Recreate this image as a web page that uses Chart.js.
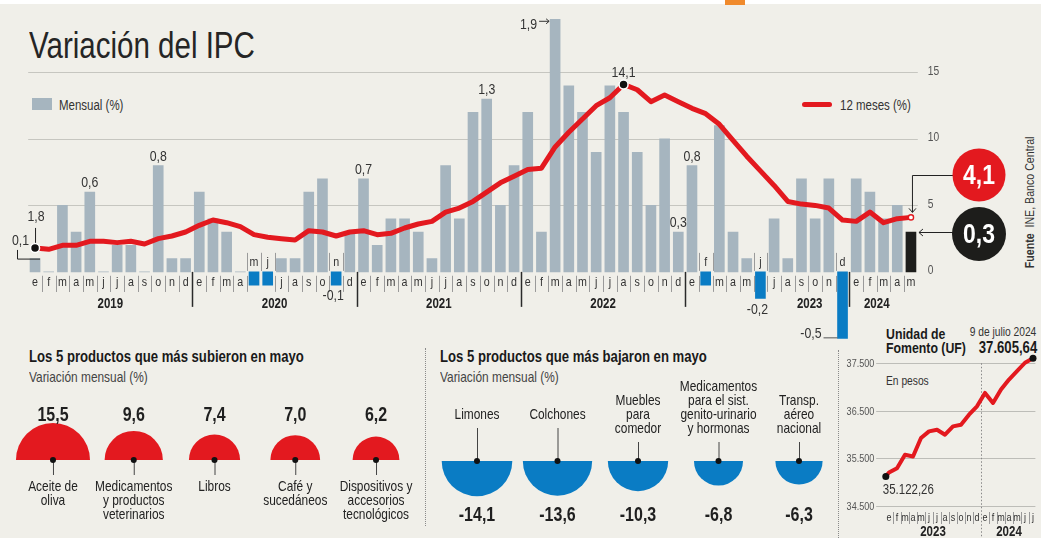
<!DOCTYPE html>
<html><head><meta charset="utf-8">
<script src="https://cdn.jsdelivr.net/npm/chart.js@4.4.1/dist/chart.umd.min.js"></script>
<style>
body{margin:0;background:#f0efe9;}
#page{position:relative;width:1041px;height:538px;background:#f0efe9;overflow:hidden;font-family:'Liberation Sans',Arial,sans-serif;color:#222;}
.abs{position:absolute;white-space:nowrap;}
.n{transform:scaleX(.82);transform-origin:0 0;}
.nr{transform:scaleX(.82);transform-origin:100% 0;}
canvas{position:absolute;}
</style></head><body>
<div id="page">
<div class="abs" style="left:0;top:0;width:1041px;height:4px;background:#fff"></div>
<div class="abs" style="left:725px;top:0;width:20px;height:5px;background:#f08a2c"></div>
<div class="abs n" style="left:29px;top:25.5px;font-size:36px;line-height:40px;color:#252525">Variación del IPC</div>
<div class="abs" style="left:32px;top:98px;width:20px;height:12px;background:#a6b5bf"></div>
<div class="abs n" style="left:59px;top:97px;font-size:14px;line-height:16px;color:#333">Mensual (%)</div>
<div class="abs" style="left:802px;top:102px;width:30px;height:5px;border-radius:3px;background:#e3191f"></div>
<div class="abs n" style="left:840px;top:97px;font-size:14px;line-height:16px;color:#333">12 meses (%)</div>
<div class="abs" style="left:965px;top:206px;width:130px;height:14px;font-size:12.5px;line-height:14px;text-align:center;transform:rotate(-90deg) scaleX(.85);transform-origin:50% 50%;color:#333"><b>Fuente</b>&nbsp; INE, Banco Central</div>

<div class="abs n" style="left:29px;top:348px;font-size:16px;line-height:18px;font-weight:bold;color:#1a1a1a">Los 5 productos que más subieron en mayo</div>
<div class="abs n" style="left:29px;top:369px;font-size:14.5px;line-height:16px;color:#444">Variación mensual (%)</div>
<div class="abs n" style="left:440px;top:348px;font-size:16px;line-height:18px;font-weight:bold;color:#1a1a1a">Los 5 productos que más bajaron en mayo</div>
<div class="abs n" style="left:440px;top:369px;font-size:14.5px;line-height:16px;color:#444">Variación mensual (%)</div>
<div class="abs" style="left:425px;top:348px;height:178px;border-left:1px dotted #8a8a8a"></div>
<div class="abs" style="left:838px;top:350px;height:188px;border-left:1px dotted #8a8a8a"></div>

<div class="abs n" style="left:886px;top:327px;font-size:15px;line-height:14px;font-weight:bold;color:#1a1a1a">Unidad de<br>Fomento (UF)</div>
<div class="abs nr" style="right:5px;top:325px;font-size:12.5px;line-height:14px;color:#333">9 de julio 2024</div>
<div class="abs nr" id="ufLast" style="right:4px;top:339px;font-size:16px;line-height:18px;font-weight:bold;color:#1a1a1a"></div>
<div class="abs n" style="left:886px;top:374px;font-size:12.5px;line-height:14px;color:#333">En pesos</div>

<canvas id="main" width="1041" height="350" style="left:0;top:0"></canvas>
<canvas id="up" width="420" height="140" style="left:0;top:395px"></canvas>
<canvas id="down" width="420" height="160" style="left:420px;top:370px"></canvas>
<canvas id="uf" width="201" height="198" style="left:840px;top:340px"></canvas>
</div>
<script>
// ---------- DATA ----------
const monthLetters = ['e','f','m','a','m','j','j','a','s','o','n','d'];
const years = ['2019','2020','2021','2022','2023','2024'];
// IPC mensual (%), ene 2019 - may 2024
const monthly = [
 0.1,0.0,0.5,0.3,0.6,0.0,0.2,0.2,0.0,0.8,0.1,0.1,
 0.6,0.4,0.3,0.0,-0.1,-0.1,0.1,0.1,0.6,0.7,-0.1,0.3,
 0.7,0.2,0.4,0.4,0.3,0.1,0.8,0.4,1.2,1.3,0.5,0.8,
 1.2,0.3,1.9,1.4,1.2,0.9,1.4,1.2,0.9,0.5,1.0,0.3,
 0.8,-0.1,1.1,0.3,0.1,-0.2,0.4,0.1,0.7,0.4,0.7,-0.5,
 0.7,0.6,0.4,0.5,0.3];
// IPC 12 meses (%)
const annual = [
 1.8,1.7,2.0,2.0,2.3,2.3,2.2,2.3,2.1,2.5,2.7,3.0,
 3.5,3.9,3.7,3.4,2.8,2.6,2.5,2.4,3.1,3.0,2.7,3.0,
 3.1,2.8,2.9,3.3,3.6,3.8,4.5,4.8,5.3,6.0,6.7,7.2,
 7.7,7.8,9.4,10.5,11.5,12.5,13.1,14.1,13.7,12.8,13.3,12.8,
 12.3,11.9,11.1,9.9,8.7,7.6,6.5,5.3,5.1,5.0,4.8,3.9,
 3.8,4.5,3.7,4.0,4.1];
const rightTicks = [0,5,10,15];
const labelledAbove = [4,9,24,33,47,48];
const labelledBelow = [22,53];
const yearLabelIdx = [5.5,17.5,29.5,41.5,56.6,61.5];

const upNames = ['Aceite de\noliva','Medicamentos\ny productos\nveterinarios','Libros','Café y\nsucedáneos','Dispositivos y\naccesorios\ntecnológicos'];
const upValues = [15.5,9.6,7.4,7.0,6.2];
const downNames = ['Limones','Colchones','Muebles\npara\ncomedor','Medicamentos\npara el sist.\ngenito-urinario\ny hormonas','Transp.\naéreo\nnacional'];
const downValues = [-14.1,-13.6,-10.3,-6.8,-6.3];

const ufMonthLetters = ['e','f','m','a','m','j','j','a','s','o','n','d','e','f','m','a','m','j','j'];
const ufYears = ['2023','2024'];
const ufTicks = [34500,35500,36500,37500];
const ufTime = [-0.4,0,1,2,3,4,5,6,7,8,9,10,11,12,13,14,15,16,17,18];
const ufValues = [35122.26,35203,35295,35576,35540,35928,36068,36103,35998,36173,36209,36420,36595,36877,36666,36947,37158,37333,37511,37605.64];

// ---------- STYLE ----------
const FAM = "'Liberation Sans',Arial,sans-serif";
const SX = 0.82;
const GRAY='#a6b5bf', BLUE='#0a7cc4', RED='#e3191f', BLACK='#1d1d1b';
const fmt = v => v.toFixed(1).replace('.', ',');
const thou = s => s.replace(/\B(?=(\d{3})+(?!\d))/g,'.');
const fmtUF = v => { const p = v.toFixed(2).split('.'); return thou(p[0])+','+p[1]; };
function seg(ctx,x1,y1,x2,y2){ctx.beginPath();ctx.moveTo(x1,y1);ctx.lineTo(x2,y2);ctx.stroke();}
function circ(ctx,x,y,r,fill,stroke,lw){ctx.beginPath();ctx.arc(x,y,r,0,Math.PI*2);if(fill){ctx.fillStyle=fill;ctx.fill();}if(stroke){ctx.strokeStyle=stroke;ctx.lineWidth=lw;ctx.stroke();}}
function T(ctx,s,x,y,font,color,align){
  ctx.save(); ctx.translate(x,y); ctx.scale(SX,1);
  ctx.font=font+' '+FAM; ctx.fillStyle=color; ctx.textAlign=align||'center'; ctx.textBaseline='middle';
  ctx.fillText(s,0,0); ctx.restore();
}

const catLabels = monthly.map((v,i)=> monthLetters[i%12]+' '+years[Math.floor(i/12)]);
const barColors = monthly.map((v,i)=> i===monthly.length-1 ? BLACK : (v<0 ? BLUE : GRAY));

const mainDecor = {
  id:'mainDecor',
  beforeDatasetsDraw(chart){
    const {ctx, chartArea:a, scales:{y2}} = chart;
    ctx.save();
    ctx.strokeStyle='#c6c6c0'; ctx.lineWidth=1;
    rightTicks.filter(t=>t>0).forEach(t=>{const py=Math.round(y2.getPixelForValue(t))+0.5; seg(ctx,a.left,py,a.right,py);});
    rightTicks.forEach(t=>T(ctx,String(t), a.right+10, y2.getPixelForValue(t)-1,'12.5px','#555','left'));
    ctx.restore();
  },
  afterDatasetsDraw(chart){
    const {ctx, scales:{x,y,y2}} = chart;
    const base = y.getPixelForValue(0);
    const px = i => x.getPixelForValue(i);
    const step = px(1)-px(0);
    const n = monthly.length;
    ctx.save();
    ctx.lineWidth=1;
    monthly.forEach((v,i)=>{
      const cx = px(i), neg = v<0;
      T(ctx, monthLetters[i%12], cx, neg ? base-9 : base+11, '13px', '#333');
      ctx.strokeStyle='#9a9a9a';
      [i, i+1].forEach(b=>{
        if(b%12===0 || b===n) return;
        const sx = Math.round((px(b-1)+px(b))/2)+0.5;
        if(neg) seg(ctx,sx,base-19,sx,base-1); else seg(ctx,sx,base+4,sx,base+20);
      });
    });
    ctx.strokeStyle='#2a2a2a'; ctx.lineWidth=1.5;
    for(let b=12;b<n;b+=12){const sx=Math.round((px(b-1)+px(b))/2)+0.5; seg(ctx,sx,base,sx,base+35);}
    years.forEach((yr,k)=>{
      const f = yearLabelIdx[k], i0=Math.floor(f);
      T(ctx, yr, px(i0)+(f-i0)*step, base+32, 'bold 14px', '#222');
    });
    const F='15px', C='#333';
    labelledAbove.forEach(i=>T(ctx, fmt(monthly[i]), px(i), y.getPixelForValue(monthly[i])-9, F, C));
    labelledBelow.forEach(i=>T(ctx, fmt(monthly[i]), px(i)-3, y.getPixelForValue(monthly[i])+11, F, C));
    ctx.lineWidth=1;
    const iMax = monthly.indexOf(Math.max(...monthly));
    {
      const top = y.getPixelForValue(monthly[iMax]), left = px(iMax)-5;
      T(ctx, fmt(monthly[iMax]), left-13, top+6, F, C, 'right');
      ctx.strokeStyle='#333'; seg(ctx,left-11,top+2,left-1,top+2);
      seg(ctx,left-4,top-0.5,left-1,top+2); seg(ctx,left-4,top+4.5,left-1,top+2);
    }
    const iMin = monthly.indexOf(Math.min(...monthly));
    {
      const bot = y.getPixelForValue(monthly[iMin]), left = px(iMin)-5;
      T(ctx, fmt(monthly[iMin]), left-16, bot-4, F, C, 'right');
      ctx.strokeStyle='#555'; seg(ctx,left-14,bot-0.5,left,bot-0.5);
    }
    const x0 = px(0), l0 = y2.getPixelForValue(annual[0]), b0 = y.getPixelForValue(monthly[0]);
    ctx.strokeStyle='#222';
    seg(ctx,x0+0.5,l0-20,x0+0.5,l0-4);
    T(ctx, fmt(annual[0]), x0+1, l0-31, F, C);
    seg(ctx,17.5,l0+2,17.5,b0+0.5); seg(ctx,17.5,b0+0.5,x0+5,b0+0.5);
    T(ctx, fmt(monthly[0]), 29, l0-7, F, C, 'right');
    circ(ctx,x0,l0,4.5,'#111','#fff',1.5);
    const iPk = annual.indexOf(Math.max(...annual));
    const xp = px(iPk), yp = y2.getPixelForValue(annual[iPk]);
    circ(ctx,xp,yp,4.5,'#111','#fff',1.5);
    T(ctx, fmt(annual[iPk]), xp, yp-12, F, C);
    const xl = px(n-1), yl = y2.getPixelForValue(annual[n-1]), bl = y.getPixelForValue(monthly[n-1]);
    circ(ctx,xl,yl,2.6,'#fff',RED,1.4);
    const cxC = 979;
    ctx.strokeStyle='#222'; ctx.lineWidth=1;
    seg(ctx,cxC-26,175.5,xl+1.5,175.5); seg(ctx,xl+1.5,175.5,xl+1.5,yl-5);
    seg(ctx,xl+1.5,yl-5,xl-2,yl-9); seg(ctx,xl+1.5,yl-5,xl+5,yl-9);
    seg(ctx,cxC-26,bl+0.5,xl+8,bl+0.5);
    seg(ctx,xl+8,bl+0.5,xl+12,bl-3); seg(ctx,xl+8,bl+0.5,xl+12,bl+4);
    circ(ctx,cxC,175,26.5,RED);
    circ(ctx,cxC,234,27,BLACK);
    T(ctx, fmt(annual[n-1]), cxC, 176, 'bold 28px', '#fff');
    T(ctx, fmt(monthly[n-1]), cxC, 235, 'bold 28px', '#fff');
    ctx.restore();
  }
};

new Chart(document.getElementById('main'), {
  type:'bar',
  data:{ labels: catLabels, datasets:[
    {type:'line', data: annual, yAxisID:'y2', borderColor:RED, borderWidth:5, pointRadius:0, tension:0, borderJoinStyle:'round', borderCapStyle:'round', order:1},
    {type:'bar', data: monthly, yAxisID:'y', backgroundColor: barColors, barThickness:10, order:2}
  ]},
  options:{
    responsive:false, animation:false, devicePixelRatio:1, events:[],
    layout:{autoPadding:false, padding:{left:28.2,right:123.2,top:6,bottom:5}},
    scales:{
      x:{type:'category', display:false, offset:true},
      y:{display:false, min:-0.55, max:2.0},
      y2:{display:false, min:-5.5, max:20, position:'right'}
    },
    plugins:{legend:{display:false}, tooltip:{enabled:false}}
  },
  plugins:[mainDecor]
});

// ---------- half-circle panels ----------
const RK = 9.4;
function panelDecor(names, values, up){
  return {
    id:'panel'+(up?'Up':'Down'),
    afterDatasetsDraw(chart){
      const {ctx, scales:{x,y}} = chart;
      const cy = y.getPixelForValue(up?0:1);
      ctx.save();
      values.forEach((v,i)=>{
        const cx = x.getPixelForValue(i);
        const lines = names[i].split('\n');
        T(ctx, fmt(v), cx, up ? cy-44 : cy+55, 'bold 19.5px', '#1f1f1f');
        ctx.strokeStyle='#444'; ctx.lineWidth=1;
        if(up){
          seg(ctx,cx+0.5,cy,cx+0.5,cy+15);
          lines.forEach((s,k)=>T(ctx,s,cx,cy+27+k*14,'14.5px','#222'));
        } else {
          const lastY = lines.length>1 ? cy-32 : cy-46;
          lines.forEach((s,k)=>T(ctx,s,cx,lastY-(lines.length-1-k)*14,'14.5px','#222'));
          seg(ctx,cx+0.5,lastY+13,cx+0.5,cy);
        }
        circ(ctx,cx,cy,3,'#111');
      });
      ctx.restore();
    }
  };
}
function panel(id, names, values, up, pad){
  new Chart(document.getElementById(id), {
    type:'bubble',
    data:{datasets:[{
      data: values.map((v,i)=>({x:i, y: up?0:1, r: RK*Math.sqrt(Math.abs(v))})),
      backgroundColor: up?RED:BLUE, borderWidth:0, hoverRadius:0,
      clip: up ? {left:false,right:false,top:false,bottom:0} : {left:false,right:false,top:0,bottom:false}
    }]},
    options:{
      responsive:false, animation:false, devicePixelRatio:1, events:[],
      layout:{autoPadding:false, padding:pad},
      scales:{x:{type:'linear',display:false,min:-0.5,max:values.length-0.5}, y:{display:false,min:0,max:1}},
      plugins:{legend:{display:false}, tooltip:{enabled:false}}
    },
    plugins:[panelDecor(names, values, up)]
  });
}
panel('up', upNames, upValues, true, {left:12.6,right:3.6,top:5,bottom:75});
panel('down', downNames, downValues, false, {left:16.75,right:0.75,top:91,bottom:5});

// ---------- UF ----------
document.getElementById('ufLast').textContent = fmtUF(ufValues[ufValues.length-1]);
const ufDecor = {
  id:'ufDecor',
  beforeDatasetsDraw(chart){
    const {ctx, chartArea:a, scales:{x,y}} = chart;
    ctx.save();
    ctx.strokeStyle='#bdbdb8'; ctx.lineWidth=1;
    ufTicks.forEach(t=>{const py=Math.round(y.getPixelForValue(t))+0.5; seg(ctx,a.left-8,py,a.right,py); T(ctx,thou(String(t)), a.left-10, py, '11px','#555','right');});
    const xb = Math.round(x.getPixelForValue(11.5))+0.5;
    ctx.setLineDash([1.5,2]); ctx.strokeStyle='#888';
    seg(ctx,xb,y.getPixelForValue(ufTicks[ufTicks.length-1]),xb,chart.height);
    ctx.setLineDash([]);
    ctx.strokeStyle='#999';
    ufMonthLetters.forEach((m,i)=>{
      T(ctx, m, x.getPixelForValue(i), a.bottom+12, '11px', '#333');
      if(i<ufMonthLetters.length-1 && i!==11){const sx=Math.round(x.getPixelForValue(i+0.5))+0.5; seg(ctx,sx,a.bottom+6,sx,a.bottom+18);}
    });
    T(ctx, ufYears[0], x.getPixelForValue(5.5), a.bottom+26, 'bold 14px', '#222');
    T(ctx, ufYears[1], x.getPixelForValue(15), a.bottom+26, 'bold 14px', '#222');
    ctx.restore();
  },
  afterDatasetsDraw(chart){
    const {ctx} = chart;
    const pts = chart.getDatasetMeta(0).data;
    const p0 = pts[0], p1 = pts[pts.length-1];
    ctx.save();
    circ(ctx,p0.x,p0.y,3.5,'#111');
    circ(ctx,p1.x,p1.y,3.5,'#111');
    T(ctx, fmtUF(ufValues[0]), p0.x-3, p0.y+14, '14px', '#333', 'left');
    ctx.restore();
  }
};
new Chart(document.getElementById('uf'), {
  type:'line',
  data:{datasets:[{data: ufTime.map((t,i)=>({x:t,y:ufValues[i]})), borderColor:RED, borderWidth:4, pointRadius:0, tension:0, borderJoinStyle:'round', borderCapStyle:'round'}]},
  options:{
    responsive:false, animation:false, devicePixelRatio:1, events:[],
    layout:{autoPadding:false, padding:{left:44.2,right:5.6,top:9,bottom:32}},
    scales:{x:{type:'linear',display:false,min:-0.6,max:18.3}, y:{display:false,min:34500,max:37800}},
    plugins:{legend:{display:false}, tooltip:{enabled:false}}
  },
  plugins:[ufDecor]
});
</script>
</body></html>
